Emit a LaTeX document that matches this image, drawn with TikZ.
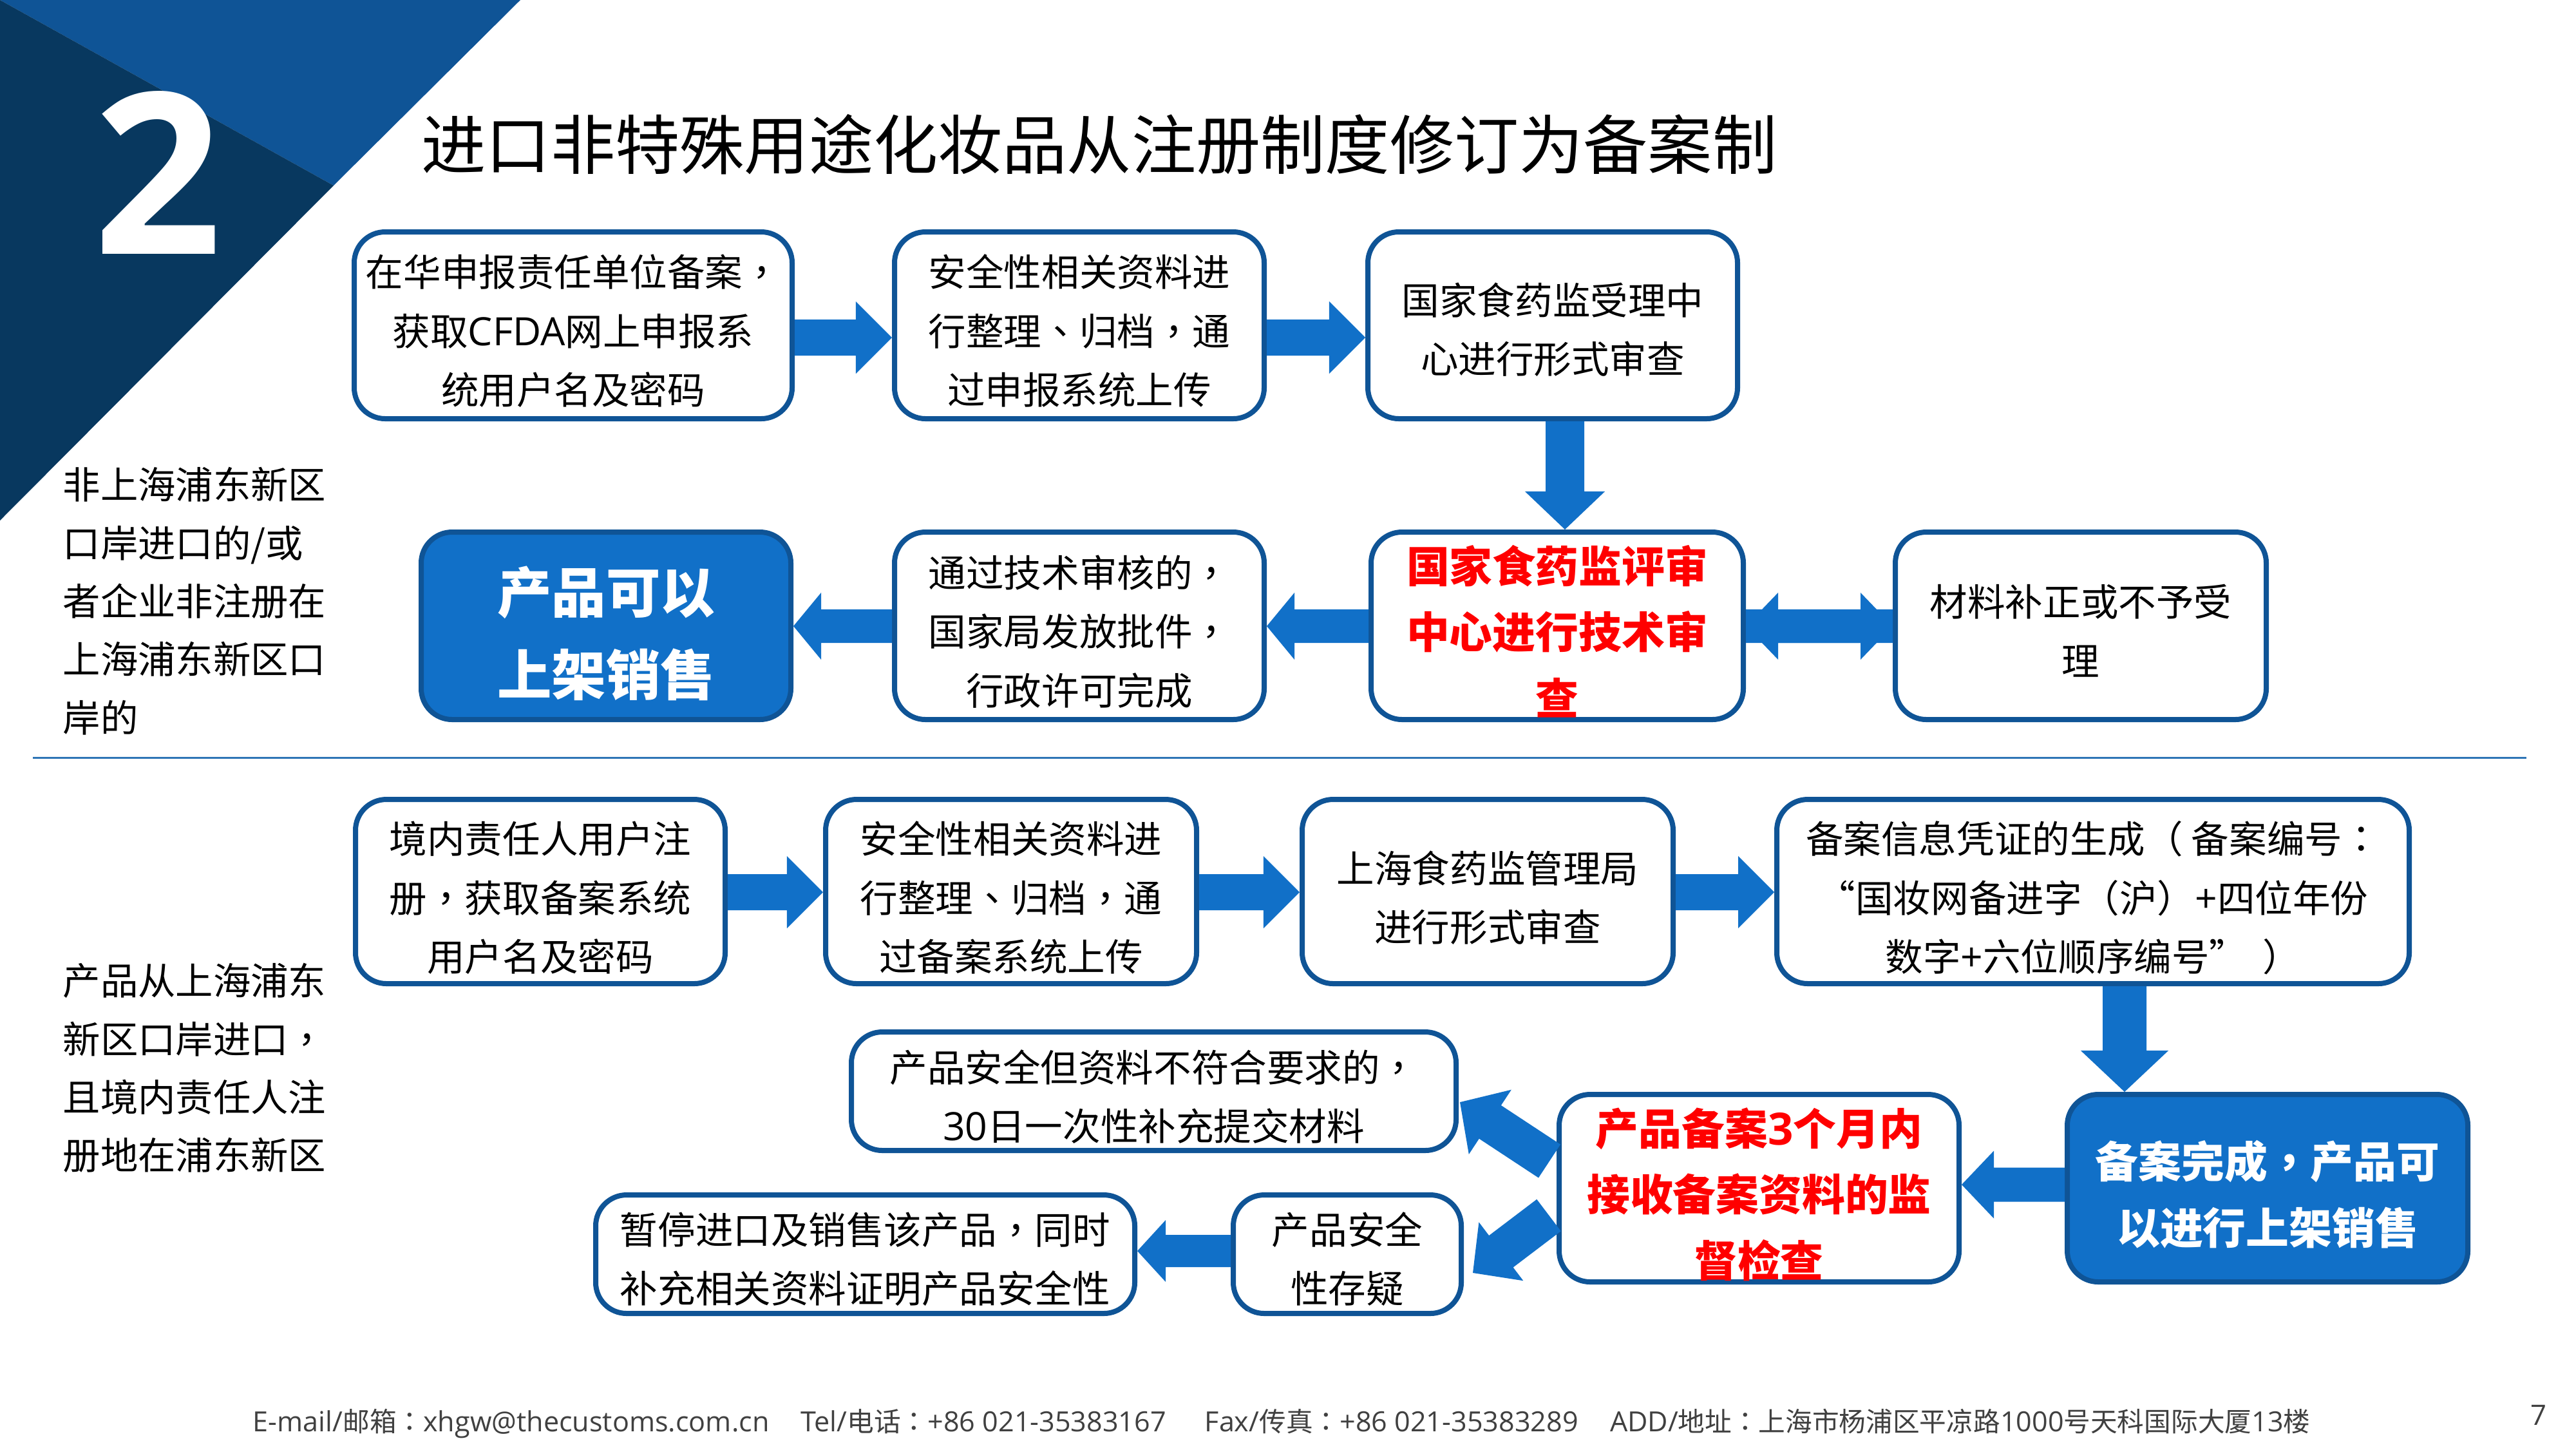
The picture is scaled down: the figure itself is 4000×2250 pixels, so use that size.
\documentclass[tikz,border=0pt]{standalone}
\usepackage{fontspec}
\usetikzlibrary{calc}
\setmainfont{Noto Sans CJK SC}
\newfontfamily\tcf{Noto Sans CJK TC}
\newfontfamily\latf[Scale=1.035]{Open Sans}
\newcommand\cmm{{\tcf ，}}
\newcommand\dun{{\tcf 、}}
\newcommand\cln{{\tcf ：}}
\newcommand\lp{{\tcf （}}
\newcommand\rp{{\tcf ）}}
\newcommand\lt[1]{{\latf #1}}
\newlength\pxu \setlength\pxu{0.01cm}
\definecolor{edgeblue}{HTML}{0F5496}
\definecolor{fillblue}{HTML}{1170C8}
\definecolor{darknavy}{HTML}{08385F}
\definecolor{linkblue}{HTML}{2E75B6}
\definecolor{footgray}{HTML}{404040}
\newcommand\lbl[2]{\raisebox{#1\pxu}[0pt][0pt]{\begin{tabular}{@{}c@{}}#2\end{tabular}}}
\tikzset{
  x=0.01cm,y=-0.01cm,
  boxbase/.style={draw=edgeblue,line width=0.08cm,rounded corners=0.48cm,inner sep=0pt},
  plainbox/.style={boxbase,fill=white,text=black,font=\fontsize{16.65}{26.0}\selectfont},
  redbox/.style={boxbase,fill=white,text=red,font=\fontsize{19}{29.2}\selectfont\bfseries},
  bluebox/.style={boxbase,fill=fillblue,text=white,font=\fontsize{19}{29.2}\selectfont\bfseries},
  bigblue/.style={boxbase,fill=fillblue,text=white,font=\fontsize{24}{36.4}\selectfont\bfseries},
  sidetext/.style={align=left,inner sep=0pt,anchor=west,font=\fontsize{16.6}{25.7}\selectfont},
  blockfill/.style={fill=fillblue,draw=none},
}
% name, x1,y1,x2,y2 (outer edges), style, text
\newcommand\bx[7]{\node[#6,minimum width={(#4-#2-8)*0.01cm},minimum height={(#5-#3-8)*0.01cm}]
  (#1) at ({(#2+#4)/2},{(#3+#5)/2}) {#7};}
% start, tip, half shaft, half head, head length (cm)
\newcommand\blockarrow[5]{%
  \path #1 coordinate (ba) #2 coordinate (bb);
  \path ($(bb)!#5!(ba)$) coordinate (bc);
  \fill[blockfill] ($(ba)!#3!90:(bb)$) -- ($(bc)!#3!90:(bb)$) -- ($(bc)!#4!90:(bb)$)
    -- (bb) -- ($(bc)!#4!-90:(bb)$) -- ($(bc)!#3!-90:(bb)$) -- ($(ba)!#3!-90:(bb)$) -- cycle;}
\begin{document}
\begin{tikzpicture}
\useasboundingbox (0,0) rectangle (4000,2250);
\fill[white] (0,0) rectangle (4000,2250);
% corner triangles
\fill[edgeblue] (0,0) -- (808,0) -- (518,288) -- cycle;
\fill[darknavy] (0,0) -- (518,288) -- (0,808) -- cycle;
\node[text=white,inner sep=0pt,font=\fontsize{96}{96}\selectfont\latf\bfseries] (num) at (245,268) {2};
\node[anchor=west,inner sep=0pt,font=\fontsize{28.5}{34}\selectfont] (title) at (654,224) {进口非特殊用途化妆品从注册制度修订为备案制};
% side texts
\node[sidetext] (side1) at (97,933) {非上海浦东新区\\口岸进口的/或\\者企业非注册在\\上海浦东新区口\\岸的};
\node[sidetext] (side2) at (97,1658) {产品从上海浦东\\新区口岸进口\cmm\\且境内责任人注\\册地在浦东新区};
% separator
\coordinate (sepL) at (51,1176); \coordinate (sepR) at (3923,1176);
\draw[linkblue,line width=0.03cm] (sepL) -- (sepR);
% row 1
\bx{b1}{546}{356}{1234}{654}{plainbox}{\lbl{-28}{在华申报责任单位备案\cmm\\获取\lt{CFDA}网上申报系\\统用户名及密码}}
\bx{b2}{1385}{356}{1967}{654}{plainbox}{\lbl{-28}{安全性相关资料进\\行整理\dun 归档\cmm 通\\过申报系统上传}}
\bx{b3}{2120}{356}{2702}{654}{plainbox}{\lbl{-26}{国家食药监受理中\\心进行形式审查}}
% row 2
\bx{b4}{650}{822}{1232}{1121}{bigblue}{\lbl{-40}{产品可以\\上架销售}}
\bx{b5}{1385}{822}{1967}{1121}{plainbox}{\lbl{-28}{通过技术审核的\cmm\\国家局发放批件\cmm\\行政许可完成}}
\bx{b6}{2125}{822}{2711}{1121}{redbox}{\lbl{-30}{国家食药监评审\\中心进行技术审\\查}}
\bx{b7}{2939}{822}{3523}{1121}{plainbox}{\lbl{-28}{材料补正或不予受\\理}}
% row 3
\bx{c1}{548}{1237}{1130}{1531}{plainbox}{\lbl{-29}{境内责任人用户注\\册\cmm 获取备案系统\\用户名及密码}}
\bx{c2}{1278}{1237}{1862}{1531}{plainbox}{\lbl{-29}{安全性相关资料进\\行整理\dun 归档\cmm 通\\过备案系统上传}}
\bx{c3}{2018}{1237}{2602}{1531}{plainbox}{\lbl{-29}{上海食药监管理局\\进行形式审查}}
\bx{c4}{2755}{1237}{3745}{1531}{plainbox}{\lbl{-29}{备案信息凭证的生成\lp{} 备案编号\cln\\“国妆网备进字\lp 沪\rp \lt{+}四位年份\\数字\lt{+}六位顺序编号”\hspace{7pt}\rp}}
% rows 4 and 5
\bx{d1}{1318}{1598}{2265}{1790}{plainbox}{\lbl{-28}{产品安全但资料不符合要求的\cmm\\\lt{30}日一次性补充提交材料}}
\bx{e1}{921}{1851}{1766}{2043}{plainbox}{\lbl{-27}{暂停进口及销售该产品\cmm 同时\\补充相关资料证明产品安全性}}
\bx{e2}{1911}{1851}{2273}{2043}{plainbox}{\lbl{-27}{产品安全\\性存疑}}
\bx{r1}{2417}{1695}{3046}{1994}{redbox}{\lbl{-30}{产品备案\lt{3}个月内\\接收备案资料的监\\督检查}}
\bx{f1}{3206}{1695}{3836}{1994}{bluebox}{\lbl{-30}{备案完成\cmm 产品可\\以进行上架销售}}
% arrows
\blockarrow{(b1.east |- 0,524)}{(b2.west |- 0,524)}{0.28cm}{0.56cm}{0.56cm}
\blockarrow{(b2.east |- 0,524)}{(b3.west |- 0,524)}{0.28cm}{0.56cm}{0.56cm}
\blockarrow{(2430,0 |- b3.south)}{(2430,0 |- b6.north)}{0.30cm}{0.62cm}{0.59cm}
\blockarrow{(b6.west |- 0,972)}{(b5.east |- 0,972)}{0.26cm}{0.52cm}{0.43cm}
\blockarrow{(b5.west |- 0,972)}{(b4.east |- 0,972)}{0.26cm}{0.52cm}{0.43cm}
\blockarrow{(b6.east |- 0,972)}{(b7.west |- 0,972)}{0.26cm}{0.52cm}{0.50cm}
\blockarrow{(b7.west |- 0,972)}{(b6.east |- 0,972)}{0.26cm}{0.52cm}{0.50cm}
\blockarrow{(c1.east |- 0,1385)}{(c2.west |- 0,1385)}{0.28cm}{0.56cm}{0.56cm}
\blockarrow{(c2.east |- 0,1385)}{(c3.west |- 0,1385)}{0.28cm}{0.56cm}{0.56cm}
\blockarrow{(c3.east |- 0,1385)}{(c4.west |- 0,1385)}{0.28cm}{0.56cm}{0.56cm}
\blockarrow{(3299,0 |- c4.south)}{(3299,0 |- f1.north)}{0.34cm}{0.68cm}{0.64cm}
\blockarrow{(f1.west |- 0,1839)}{(r1.east |- 0,1839)}{0.265cm}{0.525cm}{0.50cm}
\blockarrow{($(r1.west)+(-11,-42)$)}{($(d1.east)+(2,17)$)}{0.31cm}{0.60cm}{0.56cm}
\blockarrow{($(r1.west)+(-12,42)$)}{($(e2.east)+(14,29)$)}{0.31cm}{0.57cm}{0.55cm}
\blockarrow{(e2.west |- 0,1942)}{(e1.east |- 0,1942)}{0.25cm}{0.48cm}{0.44cm}
% footer
\node[anchor=west,inner sep=0pt,text=footgray,font=\fontsize{11.85}{14}\selectfont] (foot) at (392,2210) {\lt{E-mail/}邮箱\cln\lt{xhgw@thecustoms.com.cn}\hspace{14pt}\lt{Tel/}电话\cln\lt{+86 021-35383167}\hspace{17pt}\lt{Fax/}传真\cln\lt{+86 021-35383289}\hspace{14pt}\lt{ADD/}地址\cln 上海市杨浦区平凉路\lt{1000}号天科国际大厦\lt{13}楼};
\node[text=footgray,inner sep=0pt,font=\fontsize{12}{14}\selectfont\latf] (pnum) at (3942,2197) {7};
\end{tikzpicture}
\end{document}
